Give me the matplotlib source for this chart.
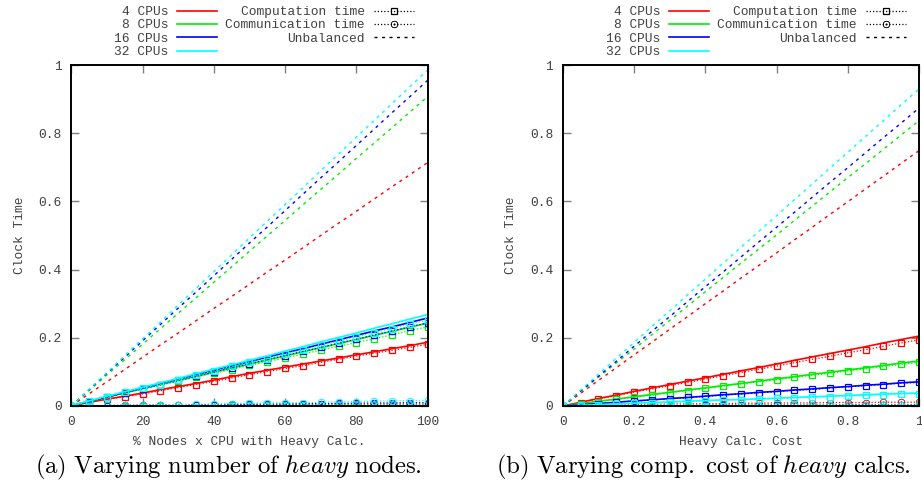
import matplotlib.pyplot as plt
from matplotlib.lines import Line2D

plt.rcParams['mathtext.fontset'] = 'cm'
MONO = 'Liberation Mono'
GRAY = '#404040'

cpus = ['4 CPUs', '8 CPUs', '16 CPUs', '32 CPUs']
colors = ['#ff0000', '#00ee00', '#0000ff', '#00ffff']

# panel (a): % nodes with heavy calc
x_a = [0, 5, 10, 15, 20, 25, 30, 35, 40, 45, 50, 55, 60, 65, 70, 75, 80, 85, 90, 95, 100]
total_a = [
    [0.0, .011, .020, .029, .038, .048, .057, .066, .076, .086, .096, .105, .114, .123, .132, .141, .150, .159, .168, .177, .187],
    [.001, .013, .026, .038, .051, .063, .075, .087, .099, .111, .123, .135, .147, .159, .171, .183, .195, .207, .219, .231, .243],
    [.001, .014, .027, .040, .053, .066, .079, .092, .104, .117, .130, .143, .156, .168, .181, .194, .207, .220, .232, .245, .258],
    [.002, .015, .029, .042, .055, .068, .081, .095, .108, .121, .134, .147, .161, .174, .188, .201, .214, .228, .241, .255, .268],
]
comp_a = [
    [0.0, .012, .020, .027, .035, .045, .054, .063, .072, .082, .092, .101, .110, .118, .128, .137, .146, .155, .163, .172, .181],
    [0.0, .013, .026, .038, .050, .061, .073, .085, .096, .107, .119, .130, .141, .152, .164, .175, .186, .197, .209, .221, .232],
    [0.0, .013, .026, .039, .051, .062, .075, .087, .100, .112, .124, .136, .148, .160, .172, .184, .196, .208, .220, .232, .244],
    [0.0, .014, .027, .040, .052, .063, .077, .090, .103, .116, .129, .139, .153, .165, .178, .190, .203, .215, .227, .240, .252],
]
comm_a = [
    [0, .001, .001, .002, .002, .002, .003, .003, .003, .004, .004, .004, .004, .005, .005, .005, .005, .006, .006, .006, .006],
    [0, .000, .001, .001, .001, .001, .002, .002, .002, .002, .002, .003, .003, .003, .003, .003, .004, .004, .004, .004, .004],
    [0, .001, .001, .002, .002, .003, .003, .004, .004, .005, .005, .006, .006, .007, .007, .008, .008, .009, .009, .010, .010],
    [0, .001, .002, .002, .003, .004, .004, .005, .006, .007, .008, .009, .010, .010, .011, .012, .013, .014, .015, .016, .017],
]
unbal_a = [
    [0, .036, .071, .107, .143, .179, .214, .250, .286, .321, .357, .393, .428, .464, .500, .536, .571, .607, .643, .678, .714],
    [0, .045, .091, .136, .181, .227, .272, .317, .363, .408, .454, .499, .544, .590, .635, .680, .726, .771, .816, .862, .907],
    [0, .048, .096, .143, .191, .239, .287, .334, .382, .430, .478, .525, .573, .621, .669, .716, .764, .812, .860, .907, .955],
    [0, .049, .098, .148, .197, .246, .296, .345, .394, .443, .493, .542, .591, .640, .690, .739, .788, .837, .887, .936, .985],
]

# panel (b): heavy calc cost
x_b = [0, .05, .1, .15, .2, .25, .3, .35, .4, .45, .5, .55, .6, .65, .7, .75, .8, .85, .9, .95, 1.0]
total_b = [
    [0, .011, .022, .032, .043, .053, .063, .073, .083, .093, .103, .113, .123, .134, .144, .154, .164, .174, .185, .195, .205],
    [0, .007, .014, .020, .027, .034, .040, .047, .053, .060, .066, .073, .080, .086, .093, .099, .106, .112, .119, .126, .132],
    [0, .004, .007, .011, .015, .018, .022, .025, .029, .033, .036, .040, .043, .047, .050, .054, .057, .061, .064, .068, .071],
    [0, .002, .004, .006, .008, .010, .012, .014, .016, .018, .019, .021, .023, .025, .027, .029, .031, .033, .035, .037, .038],
]
comp_b = [
    [0, .010, .021, .030, .041, .050, .060, .069, .079, .089, .098, .108, .117, .127, .137, .146, .156, .165, .175, .185, .194],
    [0, .007, .013, .020, .026, .032, .039, .045, .052, .058, .065, .071, .077, .084, .090, .096, .103, .109, .116, .122, .128],
    [0, .004, .007, .011, .014, .018, .021, .025, .028, .032, .035, .039, .042, .046, .049, .053, .056, .060, .063, .067, .069],
    [0, .002, .004, .006, .008, .009, .011, .013, .015, .017, .018, .020, .022, .024, .026, .027, .029, .031, .033, .035, .036],
]
comm_b = [
    [0, .001, .002, .003, .004, .005, .006, .006, .007, .007, .008, .008, .009, .009, .009, .010, .010, .010, .011, .011, .011],
    [0, .000, .001, .001, .001, .002, .002, .002, .002, .003, .003, .003, .003, .003, .004, .004, .004, .004, .004, .004, .005],
    [0, .000, .000, .001, .001, .001, .001, .001, .002, .002, .002, .002, .002, .002, .002, .002, .003, .003, .003, .003, .003],
    [0, .000, .000, .000, .001, .001, .001, .001, .001, .001, .001, .001, .001, .002, .002, .002, .002, .002, .002, .002, .002],
]
unbal_b = [
    [0, .037, .075, .112, .150, .187, .225, .262, .300, .337, .375, .412, .449, .487, .524, .562, .599, .637, .674, .712, .749],
    [0, .042, .084, .126, .167, .209, .251, .293, .335, .377, .419, .460, .502, .544, .586, .628, .670, .711, .753, .795, .837],
    [0, .044, .087, .131, .175, .219, .262, .306, .350, .393, .437, .481, .524, .568, .612, .656, .699, .743, .787, .830, .874],
    [0, .047, .093, .140, .186, .233, .279, .326, .372, .419, .465, .512, .558, .605, .651, .698, .744, .791, .837, .884, .930],
]

xticks_a = [0, 20, 40, 60, 80, 100]
xticks_b = [0, 0.2, 0.4, 0.6, 0.8, 1]
yticks = [0, 0.2, 0.4, 0.6, 0.8, 1]

W, H = 922, 495
fig = plt.figure(figsize=(W / 100, H / 100), dpi=100)

DOT = (0, (1, 1.6))
DASH = (0, (2.2, 3.2))
CIRC = r'$\odot$'
FS = 9.3


def panel(left, x, total, comp, comm, unbal, xticks, xlabels, xlabel, leg_x):
    ax = fig.add_axes([left / W, 1 - 406 / H, 356.3 / W, 341 / H])
    for i, c in enumerate(colors):
        ax.plot(x, unbal[i], color=c, lw=1.0, ls=DASH)
        ax.plot(x, comp[i], color=c, lw=0.9, ls=DOT, marker='s', ms=4.5,
                mfc='none', mew=0.9)
        ax.plot(x, comm[i], color=c, lw=0.9, ls=DOT, marker=CIRC, ms=5, mew=0.3)
        ax.plot(x, total[i], color=c, lw=1.2)
    ax.set_xlim(xticks[0], xticks[-1])
    ax.set_ylim(0, 1)
    ax.set_xticks(xticks)
    ax.set_xticklabels(xlabels)
    ax.set_yticks(yticks)
    ax.set_yticklabels(['0', '0.2', '0.4', '0.6', '0.8', '1'])
    ax.tick_params(direction='in', length=6, width=1, color='#808080',
                   top=True, right=True, labelsize=FS, labelcolor=GRAY, pad=7)
    for lab in ax.get_xticklabels() + ax.get_yticklabels():
        lab.set_fontfamily(MONO)
    for s in ax.spines.values():
        s.set_linewidth(1.4)
    ax.set_xlabel(xlabel, fontsize=FS, family=MONO, color=GRAY, labelpad=6)
    ax.set_ylabel('Clock Time', fontsize=FS, family=MONO, color=GRAY, labelpad=9)

    handles = [Line2D([], [], color=c, lw=1.2) for c in colors]
    handles += [
        Line2D([], [], color='k', lw=0.9, ls=DOT, marker='s', ms=4.5, mfc='none', mew=0.9),
        Line2D([], [], color='k', lw=0.9, ls=DOT, marker=CIRC, ms=5, mew=0.3),
        Line2D([], [], color='k', lw=1.0, ls=DASH),
    ]
    labels = cpus + ['Computation time', 'Communication time', 'Unbalanced']
    leg = ax.legend(handles, labels, ncol=2, markerfirst=False, frameon=False,
                    loc='upper left', bbox_to_anchor=(leg_x / W, 1 - 6 / H),
                    bbox_transform=fig.transFigure, numpoints=1,
                    prop={'family': MONO, 'size': FS}, borderpad=0,
                    borderaxespad=0, handlelength=3.1, handletextpad=0.7,
                    columnspacing=0.6, labelspacing=0.1)
    for t in leg.get_texts():
        t.set_color(GRAY)
    return ax


panel(71.3, x_a, total_a, comp_a, comm_a, unbal_a, xticks_a,
      ['0', '20', '40', '60', '80', '100'], '% Nodes x CPU with Heavy Calc.', 114)
panel(562.8, x_b, total_b, comp_b, comm_b, unbal_b, xticks_b,
      ['0', '0.2', '0.4', '0.6', '0.8', '1'], 'Heavy Calc. Cost', 606)

fig.text(35 / W, 1 - 467 / H,
         r'$\mathrm{(a)\ Varying\ number\ of\ }\mathit{heavy}\mathrm{\ nodes.}$',
         fontsize=17.8, va='center', ha='left')
fig.text(496 / W, 1 - 467 / H,
         r'$\mathrm{(b)\ Varying\ comp.\ cost\ of\ }\mathit{heavy}\mathrm{\ calcs.}$',
         fontsize=17.8, va='center', ha='left')

fig.savefig('out.png', dpi=100)
